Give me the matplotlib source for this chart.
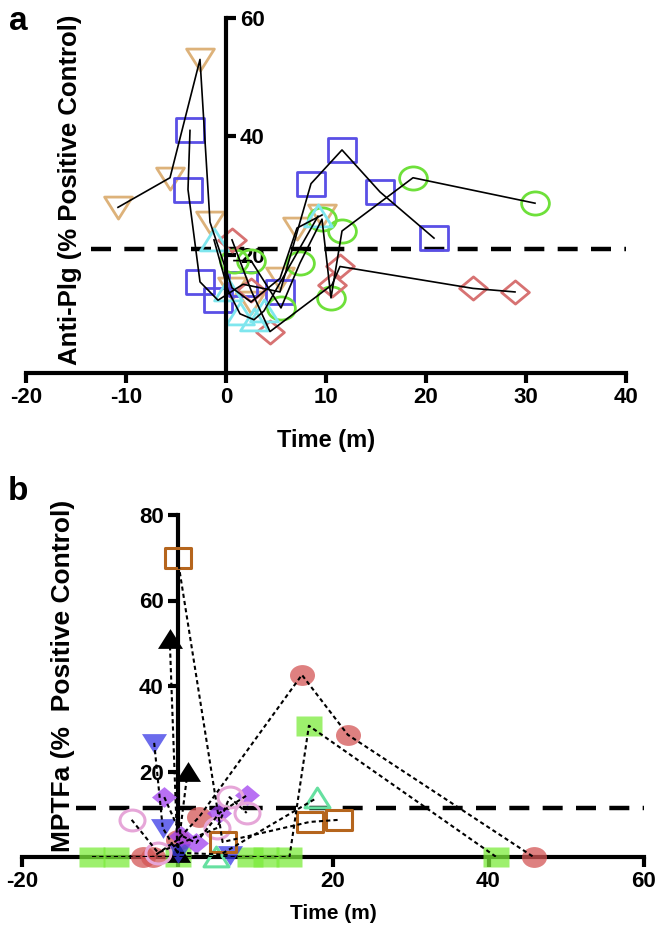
import numpy as np
import matplotlib
matplotlib.use("Agg")
import matplotlib.pyplot as plt
from matplotlib.path import Path

plt.rcParams['font.family'] = ['Liberation Sans', 'DejaVu Sans']
plt.rcParams['font.weight'] = 'bold'
plt.rcParams['axes.unicode_minus'] = False

# ---------------- panel a : Anti-Plg ----------------
a_tan_x = [-10.8, -5.6, -2.6, -1.6, 0.6, 2.5, 5.4, 7.1, 9.6]
a_tan_y = [28, 33, 53, 25.5, 14.4, 12, 16, 24.5, 26.7]
a_blue_x = [-3.6, -3.8, -2.6, -0.8, 1.7, 5.4, 8.5, 11.6, 15.4, 20.8]
a_blue_y = [41, 31, 15.4, 12.3, 15, 13.7, 32, 37.7, 30.6, 22.8]
a_green_x = [0.8, 2.5, 5.5, 7.4, 9.6, 10.5, 11.6, 18.7, 30.9]
a_green_y = [19, 19, 11, 18.6, 26, 12.7, 24, 33, 28.7]
a_red_x = [0.6, 2.5, 4.4, 10.6, 11.4, 24.7, 28.9]
a_red_y = [22.5, 14, 7, 14.9, 18, 14.3, 13.7]
a_cyan_x = [-1.2, 0.2, 1.4, 2.8, 3.8, 9.2]
a_cyan_y = [22.5, 14, 10, 9, 10.5, 26.5]
a_cutoff = 21
a_xticks = [-20, -10, 0, 10, 20, 30, 40]
a_yticks = [20, 40, 60]

# ---------------- panel b : MPTFa ----------------
b_brown_x = [0, 5.8, 17, 20.8]
b_brown_y = [70, 3.5, 8.2, 8.7]
b_red_x = [-4.5, -3.2, 0, 2.8, 16, 21.9, 45.8]
b_red_y = [0, 0, 4, 9.4, 42.6, 28.6, 0]
b_green_x = [-11, -7.9, 0, 9.3, 11.4, 14.4, 16.9, 41]
b_green_y = [0, 0, 0, 0, 0, 0, 30.7, 0]
b_black_x = [-1, 0, 1.3]
b_black_y = [51, 1, 20]
b_blue_x = [-3, -1.9, 0, 6.7]
b_blue_y = [26.7, 6.8, 1, 0.5]
b_purple_x = [-1.7, 0.5, 2.4, 5.4, 9]
b_purple_y = [14, 5, 3.3, 10.3, 14.5]
b_pink_x = [-5.9, -2.5, 5.1, 6.7, 8.9]
b_pink_y = [8.7, 1, 6.8, 14, 10.3]
b_mint_x = [5, 17.9]
b_mint_y = [0, 13.8]
b_cutoff = 11.5
b_xticks = [-20, 0, 20, 40, 60]
b_yticks = [20, 40, 60, 80]

# markers stretched a bit sideways, like the source image
sx = 1.2
rect = Path([(-0.5*sx, -0.5), (0.5*sx, -0.5), (0.5*sx, 0.5), (-0.5*sx, 0.5), (-0.5*sx, -0.5)], closed=True)
circ = Path(Path.unit_circle().vertices * [0.5*sx, 0.5], Path.unit_circle().codes)
tri_dn = Path([(-0.5*sx, 0.45), (0.5*sx, 0.45), (0, -0.5), (-0.5*sx, 0.45)], closed=True)
tri_up = Path([(-0.5*sx, -0.45), (0.5*sx, -0.45), (0, 0.5), (-0.5*sx, -0.45)], closed=True)
diam = Path([(0, 0.5), (0.5*sx, 0), (0, -0.5), (-0.5*sx, 0), (0, 0.5)], closed=True)

fig = plt.figure(figsize=(6.64, 9.32), dpi=100)

# ======================= a =======================
ax1 = fig.add_axes([26/664, 1 - 373/932, 600/664, 355/932])
ax1.set_xlim(-20, 40)
ax1.set_ylim(0, 60)

ax1.plot([-13.5, 40], [a_cutoff, a_cutoff], color='black', lw=3.2,
         linestyle=(0, (4.5, 3)), zorder=1, solid_capstyle='butt')

series_a = [
    (a_tan_x, a_tan_y, tri_dn, '#DDB27A'),
    (a_blue_x, a_blue_y, rect, '#5A4FE6'),
    (a_green_x, a_green_y, circ, '#6EE03A'),
    (a_red_x, a_red_y, diam, '#D77272'),
    (a_cyan_x, a_cyan_y, tri_up, '#7FE6EE'),
]
for xs, ys, mk, col in series_a:
    ax1.plot(xs, ys, color='black', lw=1.2, zorder=3)
    ax1.plot(xs, ys, linestyle='none', marker=mk, ms=20, mfc='none',
             mec=col, mew=2.0, zorder=2, clip_on=False)

for s in ['top', 'left']:
    ax1.spines[s].set_visible(False)
ax1.spines['right'].set_position(('data', 0))
ax1.spines['right'].set_linewidth(3)
ax1.spines['bottom'].set_linewidth(3)
ax1.yaxis.tick_right()
ax1.set_yticks(a_yticks)
ax1.set_xticks(a_xticks)
ax1.tick_params(axis='both', width=3, length=7, labelsize=16, pad=3)
for lab in ax1.get_xticklabels() + ax1.get_yticklabels():
    lab.set_fontweight('bold')
ax1.text(0.073, 0.515, 'Anti-Plg (% Positive Control)', transform=ax1.transAxes,
         rotation=90, ha='center', va='center', fontsize=18.5, fontweight='bold')
ax1.text(10, -0.19, 'Time (m)', transform=ax1.get_xaxis_transform(),
         ha='center', va='center', fontsize=17, fontweight='bold')

# ======================= b =======================
ax2 = fig.add_axes([22/664, 1 - 857/932, 622/664, 342/932])
ax2.set_xlim(-20, 60)
ax2.set_ylim(0, 80)

ax2.plot([-13, 60], [b_cutoff, b_cutoff], color='black', lw=3.2,
         linestyle=(0, (4.5, 3)), zorder=1, solid_capstyle='butt')

dot = (0, (2, 1.5))
series_b = [
    (b_green_x, b_green_y, rect, '#7CEB3C', True),
    (b_red_x, b_red_y, circ, '#D45555', True),
    (b_black_x, b_black_y, tri_up, '#000000', True),
    (b_blue_x, b_blue_y, tri_dn, '#3A3AE6', True),
    (b_purple_x, b_purple_y, diam, '#A040F0', True),
    (b_pink_x, b_pink_y, circ, '#E6A6D8', False),
    (b_mint_x, b_mint_y, tri_up, '#66E0A0', False),
    (b_brown_x, b_brown_y, rect, '#B5651D', False),
]
for xs, ys, mk, col, filled in series_b:
    ax2.plot(xs, ys, color='black', lw=1.5, linestyle=dot, zorder=4)
    if filled:
        alpha = 1.0 if col == '#000000' else 0.75
        ax2.plot(xs, ys, linestyle='none', marker=mk, ms=18, mfc=col,
                 mec='none', alpha=alpha, zorder=3, clip_on=False)
    else:
        ax2.plot(xs, ys, linestyle='none', marker=mk, ms=18, mfc='none',
                 mec=col, mew=2.2, zorder=3, clip_on=False)

for s in ['top', 'right']:
    ax2.spines[s].set_visible(False)
ax2.spines['left'].set_position(('data', 0))
ax2.spines['left'].set_linewidth(3)
ax2.spines['bottom'].set_linewidth(3)
ax2.set_yticks(b_yticks)
ax2.set_xticks(b_xticks)
ax2.tick_params(axis='both', width=3, length=7, labelsize=16, pad=3)
for lab in ax2.get_xticklabels() + ax2.get_yticklabels():
    lab.set_fontweight('bold')
ax2.text(0.066, 0.53, 'MPTFa (%  Positive Control)', transform=ax2.transAxes,
         rotation=90, ha='center', va='center', fontsize=19, fontweight='bold')
ax2.text(20, -0.164, 'Time (m)', transform=ax2.get_xaxis_transform(),
         ha='center', va='center', fontsize=15, fontweight='bold')

fig.text(18/664, 1 - 22/932, 'a', fontsize=24, fontweight='bold', ha='center', va='center')
fig.text(18/664, 1 - 492/932, 'b', fontsize=24, fontweight='bold', ha='center', va='center')

fig.savefig('out.png', dpi=100)
